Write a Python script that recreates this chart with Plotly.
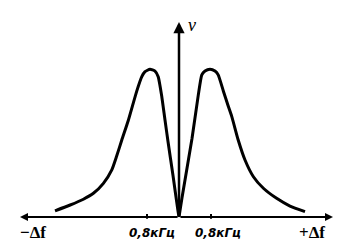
import plotly.graph_objects as go

# Frequency deviation, kHz (left and right branches), and relative amplitude v
left_f = [-3.10, -2.72, -2.39, -2.14, -1.89, -1.68, -1.56, -1.43, -1.27, -1.06, -0.93, -0.85,
          -0.725, -0.60, -0.52, -0.43, -0.35, -0.275, -0.15, -0.025, 0.0]
left_v = [0.042, 0.081, 0.12, 0.16, 0.227, 0.318, 0.41, 0.52, 0.65, 0.847, 0.948, 0.982,
          0.998, 0.986, 0.948, 0.813, 0.655, 0.51, 0.28, 0.04, 0.0]
right_f = [0.0, 0.075, 0.325, 0.48, 0.57, 0.65, 0.775, 0.90, 0.98, 1.11, 1.23, 1.32, 1.48,
           1.65, 1.86, 2.11, 2.44, 2.775, 3.15]
right_v = [0.0, 0.13, 0.53, 0.82, 0.96, 0.986, 0.998, 0.986, 0.96, 0.85, 0.75, 0.678, 0.52,
           0.385, 0.272, 0.194, 0.126, 0.074, 0.036]

tick_f = [-0.8, 0.8]
tick_labels = ["0,8кГц", "0,8кГц"]
axis_labels = ["−Δf", "+Δf"]

BLACK = "#000000"

fig = go.Figure()
for fx, vy in ((left_f, left_v), (right_f, right_v)):
    fig.add_trace(go.Scatter(
        x=fx, y=vy, mode="lines",
        line=dict(color=BLACK, width=3, shape="spline", smoothing=0.5),
        hoverinfo="skip", showlegend=False))

X0, X1 = -4.475, 4.0
Y0, Y1 = -0.223, 1.466

anns = []
# horizontal axis with arrows at both ends
for end in (-3.975, 3.85):
    anns.append(dict(x=end, y=0, ax=0, ay=0, xref="x", yref="y", axref="x", ayref="y",
                     showarrow=True, arrowhead=2, arrowsize=0.8, arrowwidth=2,
                     arrowcolor=BLACK, text="", standoff=0))
# vertical axis arrow
anns.append(dict(x=0, y=1.318, ax=0, ay=0, xref="x", yref="y", axref="x", ayref="y",
                 showarrow=True, arrowhead=2, arrowsize=0.9, arrowwidth=2.5,
                 arrowcolor=BLACK, text="", standoff=0))
anns.append(dict(x=0.33, y=1.30, text="<i>v</i>", showarrow=False,
                 font=dict(family="Liberation Serif", size=18, color=BLACK)))
# axis end labels
for xpos, lab in zip((-3.65, 3.32), axis_labels):
    anns.append(dict(x=xpos, y=-0.105, text="<b>" + lab + "</b>", showarrow=False,
                     font=dict(family="Liberation Serif", size=17, color=BLACK)))
# tick labels
for xpos, lab in zip((tick_f[0] + 0.12, tick_f[1] + 0.17), tick_labels):
    anns.append(dict(x=xpos, y=-0.108, text="<b><i>" + lab + "</i></b>", showarrow=False,
                     font=dict(family="DejaVu Sans", size=12, color=BLACK)))

shapes = []
for t in tick_f:
    shapes.append(dict(type="line", x0=t, x1=t, y0=-0.012, y1=0.02, xref="x", yref="y",
                       line=dict(color=BLACK, width=2)))

fig.update_layout(
    width=339, height=250, margin=dict(l=0, r=0, t=0, b=0),
    paper_bgcolor="white", plot_bgcolor="white",
    xaxis=dict(range=[X0, X1], visible=False, fixedrange=True),
    yaxis=dict(range=[Y0, Y1], visible=False, fixedrange=True),
    annotations=anns, shapes=shapes, showlegend=False)

fig.write_html("out.html")
